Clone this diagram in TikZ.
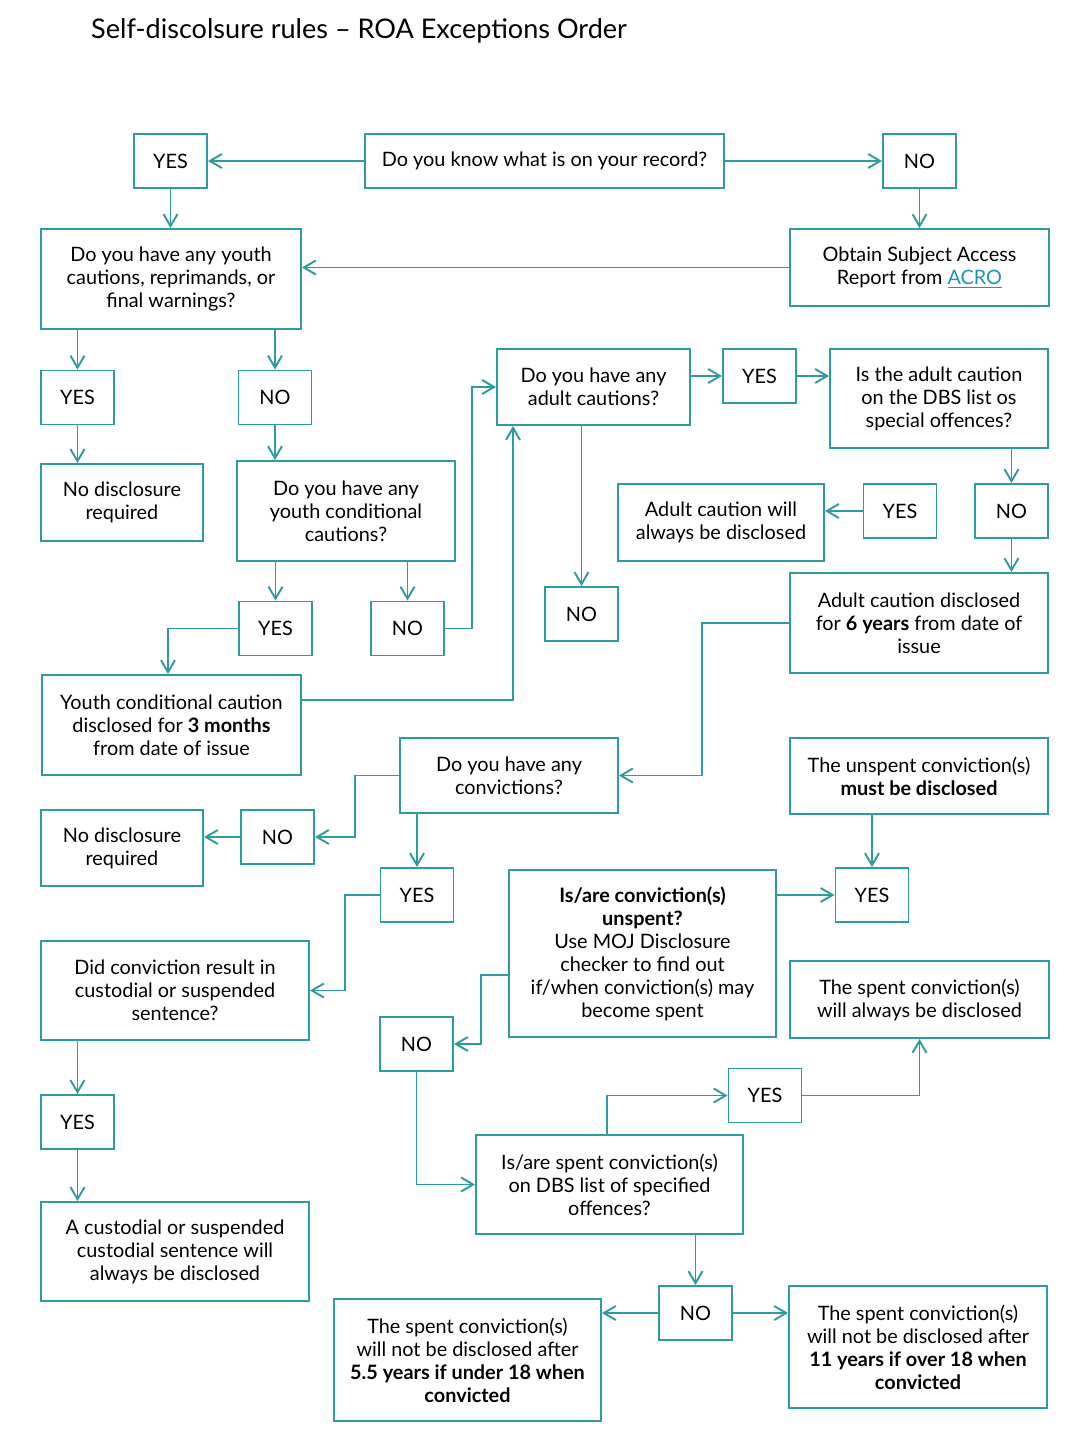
\documentclass[tikz,border=0pt]{standalone}
\usepackage{fontspec}
\setmainfont{Lato}
\usepackage{tikz}
\usetikzlibrary{positioning,arrows.meta,calc}
\usepackage{xcolor}
\definecolor{roateal}{RGB}{46,155,158}
\definecolor{roalink}{RGB}{30,150,175}

\begin{document}
\begin{tikzpicture}[
    x=0.02cm, y=-0.02cm,
    font=\fontsize{11.3}{13.1}\selectfont,
    box/.style={draw=roateal, line width=1.1pt, align=center, inner sep=2pt, text=black},
    answer/.style={box, minimum width=1.46cm, minimum height=1.08cm},
    arr/.style={draw=roateal, line width=1.1pt, -{Straight Barb[length=2.4mm, width=2.8mm]}}
]
\useasboundingbox (0,0) rectangle (1086,1448);

% Title
\node[anchor=west, font=\fontsize{15.4}{18}\selectfont] (title) at (85,31) {Self-discolsure rules -- ROA Exceptions Order};

% First question
\node[box, minimum width=7.18cm, minimum height=1.08cm] (know) at (544.5,161) {Do you know what is on your record?};
\node[answer] (yesknow) at (170.5,161) {YES};
\node[answer] (noknow) at (919.5,161) {NO};
\node[box, minimum width=5.18cm, minimum height=1.54cm] (acro) at (919.5,267.5) {Obtain Subject Access\\Report from \textcolor{roalink}{\underline{ACRO}}};

% Youth cautions
\node[box, minimum width=5.2cm, minimum height=2cm] (youth) at (171,279) {Do you have any youth\\cautions, reprimands, or\\final warnings?};
\node[answer] (yesyouth) at (77.5,397.5) {YES};
\node[answer] (noyouth) at (275,397.5) {NO};
\node[box, minimum width=3.24cm, minimum height=1.54cm] (nodisca) at (122,502.5) {No disclosure\\required};
\node[box, minimum width=4.36cm, minimum height=2cm] (ycond) at (346,511) {Do you have any\\youth conditional\\cautions?};
\node[answer] (yesycond) at (275.5,628.5) {YES};
\node[answer] (noycond) at (407.5,628.5) {NO};
\node[box, minimum width=5.18cm, minimum height=2cm] (yccdisc) at (171.5,725) {Youth conditional caution\\disclosed for \textbf{3 months}\\from date of issue};

% Adult cautions
\node[box, minimum width=3.86cm, minimum height=1.52cm] (adult) at (593.5,387) {Do you have any\\adult cautions?};
\node[answer] (yesadult) at (759.5,376) {YES};
\node[answer] (noadult) at (581.5,614) {NO};
\node[box, minimum width=4.36cm, minimum height=1.98cm] (dbsadult) at (939,398.5) {Is the adult caution\\on the DBS list os\\special offences?};
\node[answer] (yesdbsa) at (900,511) {YES};
\node[answer] (nodbsa) at (1011.5,511) {NO};
\node[box, minimum width=4.12cm, minimum height=1.54cm] (acalways) at (721,522.5) {Adult caution will\\always be disclosed};
\node[box, minimum width=5.16cm, minimum height=2cm] (acsix) at (919,623) {Adult caution disclosed\\for \textbf{6 years} from date of\\issue};

% Convictions
\node[box, minimum width=4.36cm, minimum height=1.5cm] (conv) at (509,775.5) {Do you have any\\convictions?};
\node[answer] (noconv) at (277.5,837) {NO};
\node[box, minimum width=3.24cm, minimum height=1.52cm] (nodiscb) at (122,848) {No disclosure\\required};
\node[answer] (yesconv) at (417,895) {YES};
\node[box, minimum width=5.16cm, minimum height=1.52cm] (unspmust) at (919,776) {The unspent conviction(s)\\\textbf{must be disclosed}};
\node[box, minimum width=5.34cm, minimum height=3.34cm] (unspent) at (642.5,953.5) {\textbf{Is/are conviction(s)}\\\textbf{unspent?}\\Use MOJ Disclosure\\checker to find out\\if/when conviction(s) may\\become spent};
\node[answer] (yesunsp) at (872,895) {YES};
\node[answer] (nounsp) at (416.5,1044) {NO};
\node[box, minimum width=5.36cm, minimum height=1.98cm] (custq) at (175,990.5) {Did conviction result in\\custodial or suspended\\sentence?};
\node[answer] (yescust) at (77.5,1122) {YES};
\node[box, minimum width=5.36cm, minimum height=1.98cm] (custalways) at (175,1251.5) {A custodial or suspended\\custodial sentence will\\always be disclosed};
\node[box, minimum width=5.18cm, minimum height=1.54cm] (spalways) at (919.5,999.5) {The spent conviction(s)\\will always be disclosed};

% Spent convictions
\node[box, minimum width=5.34cm, minimum height=1.98cm] (spentq) at (609.5,1184.5) {Is/are spent conviction(s)\\on DBS list of specified\\offences?};
\node[answer] (yesspent) at (765,1095.5) {YES};
\node[answer] (nospent) at (695.5,1313) {NO};
\node[box, minimum width=5.34cm, minimum height=2.44cm] (spentfive) at (467.5,1360) {The spent conviction(s)\\will not be disclosed after\\\textbf{5.5 years if under 18 when}\\\textbf{convicted}};
\node[box, minimum width=5.16cm, minimum height=2.44cm] (spenteleven) at (918,1347) {The spent conviction(s)\\will not be disclosed after\\\textbf{11 years if over 18 when}\\\textbf{convicted}};

% Connectors: record
\draw[arr] (know.west) -- (yesknow.east);
\draw[arr] (know.east) -- (noknow.west);
\draw[arr] (yesknow.south) -- (yesknow.south |- youth.north);
\draw[arr] (noknow.south) -- (acro.north);
\draw[arr] (acro.west) -- (acro.west -| youth.east);

% Connectors: youth
\draw[arr] (youth.south -| yesyouth.north) -- (yesyouth.north);
\draw[arr] (youth.south -| noyouth.north) -- (noyouth.north);
\draw[arr] (yesyouth.south) -- (yesyouth.south |- nodisca.north);
\draw[arr] (noyouth.south) -- (noyouth.south |- ycond.north);
\draw[arr] (ycond.south -| yesycond.north) -- (yesycond.north);
\draw[arr] (ycond.south -| noycond.north) -- (noycond.north);
\draw[arr] (yesycond.west) -| ([xshift=-0.07cm]yccdisc.north);
\draw[arr] (noycond.east) -- ++(27,0) |- (adult.west);
\draw[arr] ([yshift=0.5cm]yccdisc.east) -| ([xshift=-1.61cm]adult.south);

% Connectors: adult
\draw[arr] (adult.east |- yesadult.west) -- (yesadult.west);
\draw[arr] (yesadult.east) -- (yesadult.east -| dbsadult.west);
\draw[arr] (adult.south -| noadult.north) -- (noadult.north);
\draw[arr] (dbsadult.south -| nodbsa.north) -- (nodbsa.north);
\draw[arr] (yesdbsa.west) -- (yesdbsa.west -| acalways.east);
\draw[arr] (nodbsa.south) -- (nodbsa.south |- acsix.north);
\draw[arr] (acsix.west) -- ++(-87,0) |- (conv.east);

% Connectors: convictions
\draw[arr] (conv.west) -- ++(-44,0) |- (noconv.east);
\draw[arr] (noconv.west) -- (noconv.west -| nodiscb.east);
\draw[arr] (conv.south -| yesconv.north) -- (yesconv.north);
\draw[arr] (yesconv.west) -- ++(-35,0) |- (custq.east);
\draw[arr] (unspent.east |- yesunsp.west) -- (yesunsp.west);
\draw[arr] (unspmust.south -| yesunsp.north) -- (yesunsp.north);
\draw[arr] ([yshift=-0.43cm]unspent.west) -- ++(-27,0) |- (nounsp.east);
\draw[arr] (custq.south -| yescust.north) -- (yescust.north);
\draw[arr] (yescust.south) -- (yescust.south |- custalways.north);

% Connectors: spent
\draw[arr] (nounsp.south) |- (spentq.west);
\draw[arr] ([xshift=-0.05cm]spentq.north) |- (yesspent.west);
\draw[arr] (yesspent.east) -| (spalways.south);
\draw[arr] (spentq.south -| nospent.north) -- (nospent.north);
\draw[arr] (nospent.west) -- (nospent.west -| spentfive.east);
\draw[arr] (nospent.east) -- (nospent.east -| spenteleven.west);

\end{tikzpicture}
\end{document}
